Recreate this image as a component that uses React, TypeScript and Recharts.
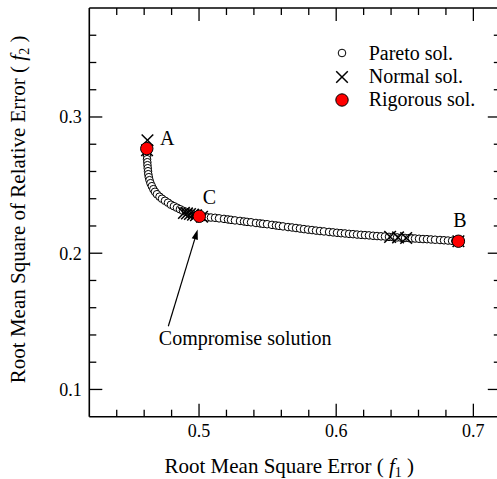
import React from 'react';
import { ScatterChart, Scatter, XAxis, YAxis, ReferenceLine, Legend } from 'recharts';

const FONT = 'Liberation Serif, Times New Roman, DejaVu Serif, serif';

// Pareto front (f1, f2)
const paretoF1 = [
  0.4619, 0.4619, 0.4620, 0.4621, 0.4621, 0.4623, 0.4624, 0.4626, 0.4628, 0.4630,
  0.4634, 0.4639, 0.4646, 0.4656, 0.4667, 0.4679, 0.4693, 0.4712, 0.4730, 0.4752,
  0.4774, 0.4795, 0.4817, 0.4839, 0.4861, 0.4883, 0.4905, 0.4927, 0.4949, 0.4974,
  0.5002, 0.5036, 0.5065, 0.5087, 0.5117, 0.5146, 0.5182, 0.5211, 0.5233, 0.5262,
  0.5299, 0.5328, 0.5350, 0.5379, 0.5415, 0.5445, 0.5466, 0.5496, 0.5532, 0.5561,
  0.5583, 0.5612, 0.5649, 0.5678, 0.5707, 0.5736, 0.5765, 0.5795, 0.5824, 0.5853,
  0.5882, 0.5911, 0.5948, 0.5977, 0.6006, 0.6035, 0.6064, 0.6094, 0.6123, 0.6152,
  0.6181, 0.6210, 0.6239, 0.6269, 0.6298, 0.6327, 0.6356, 0.6385, 0.6414, 0.6444,
  0.6473, 0.6502, 0.6531, 0.6553, 0.6575, 0.6604, 0.6633, 0.6662, 0.6691, 0.6721,
  0.6757, 0.6786, 0.6815, 0.6845, 0.6868, 0.6891,
];
const paretoF2 = [
  0.2768, 0.2756, 0.2734, 0.2712, 0.2690, 0.2668, 0.2646, 0.2624, 0.2602, 0.2580,
  0.2558, 0.2536, 0.2514, 0.2492, 0.2470, 0.2451, 0.2433, 0.2415, 0.2400, 0.2385,
  0.2371, 0.2356, 0.2345, 0.2334, 0.2323, 0.2312, 0.2304, 0.2297, 0.2290, 0.2279,
  0.2271, 0.2266, 0.2263, 0.2262, 0.2260, 0.2256, 0.2252, 0.2248, 0.2245, 0.2241,
  0.2237, 0.2233, 0.2230, 0.2227, 0.2222, 0.2219, 0.2216, 0.2213, 0.2208, 0.2204,
  0.2201, 0.2197, 0.2192, 0.2189, 0.2185, 0.2181, 0.2177, 0.2173, 0.2170, 0.2166,
  0.2163, 0.2160, 0.2156, 0.2153, 0.2150, 0.2147, 0.2145, 0.2142, 0.2140, 0.2137,
  0.2135, 0.2133, 0.2131, 0.2128, 0.2126, 0.2124, 0.2123, 0.2120, 0.2118, 0.2116,
  0.2114, 0.2112, 0.2111, 0.2109, 0.2108, 0.2106, 0.2104, 0.2103, 0.2101, 0.2099,
  0.2097, 0.2095, 0.2093, 0.2091, 0.2090, 0.2088,
];

// Normal solutions
const normalF1 = [0.4624, 0.4621, 0.4890, 0.4912, 0.4934, 0.4956, 0.4978, 0.5022, 0.6393, 0.6451, 0.6510, 0.6891];
const normalF2 = [0.2829, 0.2756, 0.2296, 0.2292, 0.2288, 0.2283, 0.2279, 0.2268, 0.2120, 0.2116, 0.2112, 0.2088];

// Rigorous solutions
const rigorousF1 = [0.4619, 0.5002, 0.6891];
const rigorousF2 = [0.2768, 0.2271, 0.2088];
const rigorousNames = ['A', 'C', 'B'];

// Axes
const xDomain = [0.42, 0.72];
const yDomain = [0.08, 0.38];
const xMajorTicks = [0.5, 0.6, 0.7];
const xMinorTicks = [0.44, 0.46, 0.48, 0.52, 0.54, 0.56, 0.58, 0.62, 0.64, 0.66, 0.68];
const yMajorTicks = [0.1, 0.2, 0.3];
const yMinorTicks = [0.12, 0.14, 0.16, 0.18, 0.22, 0.24, 0.26, 0.28, 0.32, 0.34, 0.36];

// Annotation arrow (data coords)
const arrowTail = { f1: 0.4776, f2: 0.1464 };
const arrowTip = { f1: 0.4990, f2: 0.2174 };
const annotationText = 'Compromise solution';

const legendNames = ['Pareto sol.', 'Normal sol.', 'Rigorous sol.'];

const paretoData = paretoF1.map((f1, i) => ({ f1, f2: paretoF2[i] }));
const normalData = normalF1.map((f1, i) => ({ f1, f2: normalF2[i] }));
const rigorousData = rigorousF1.map((f1, i) => ({ f1, f2: rigorousF2[i], name: rigorousNames[i] }));

const xTicks = [...xMajorTicks, ...xMinorTicks].sort((a, b) => a - b);
const yTicks = [...yMajorTicks, ...yMinorTicks].sort((a, b) => a - b);
const isMajor = (v: number, list: number[]) => list.some((m) => Math.abs(m - v) < 1e-9);

const MAJOR = 13;
const MINOR = 7;
const TICK_W = 1.3;
const AXIS_W = 1.6;
const txt = { fontFamily: FONT, fill: '#000' };

const BottomTick = (props: any) => {
  const { x, y, payload } = props;
  const major = isMajor(payload.value, xMajorTicks);
  return (
    <g>
      <line x1={x} x2={x} y1={y} y2={y - (major ? MAJOR : MINOR)} stroke="#000" strokeWidth={TICK_W} />
      {major && (
        <text x={x} y={y + 20} textAnchor="middle" fontSize={18} style={txt}>
          {payload.value.toFixed(1)}
        </text>
      )}
    </g>
  );
};

const TopTick = (props: any) => {
  const { x, y, payload } = props;
  const major = isMajor(payload.value, xMajorTicks);
  return <line x1={x} x2={x} y1={y} y2={y + (major ? MAJOR : MINOR)} stroke="#000" strokeWidth={TICK_W} />;
};

const LeftTick = (props: any) => {
  const { x, y, payload } = props;
  const major = isMajor(payload.value, yMajorTicks);
  return (
    <g>
      <line x1={x} x2={x + (major ? MAJOR : MINOR)} y1={y} y2={y} stroke="#000" strokeWidth={TICK_W} />
      {major && (
        <text x={x - 7.5} y={y + 6.5} textAnchor="end" fontSize={18} style={txt}>
          {payload.value.toFixed(1)}
        </text>
      )}
    </g>
  );
};

const RightTick = (props: any) => {
  const { x, y, payload } = props;
  const major = isMajor(payload.value, yMajorTicks);
  return <line x1={x} x2={x - (major ? MAJOR : MINOR)} y1={y} y2={y} stroke="#000" strokeWidth={TICK_W} />;
};

const XTitle = (props: any) => {
  const vb = props.viewBox || { x: 0, y: 0, width: 0, height: 0 };
  const cx = vb.x + 200;
  const by = vb.y + 56;
  return (
    <text x={cx} y={by} textAnchor="middle" fontSize={21} style={txt}>
      Root Mean Square Error (&#160;<tspan fontStyle="italic">f</tspan>
      <tspan dy={4} fontSize={14}>1</tspan>
      <tspan dy={-4}>&#160;)</tspan>
    </text>
  );
};

const YTitle = (props: any) => {
  const vb = props.viewBox || { x: 0, y: 0, width: 0, height: 0 };
  const cx = vb.x + 25;
  const cy = vb.y + vb.height / 2 - 3;
  return (
    <text
      x={cx}
      y={cy}
      transform={`rotate(-90, ${cx}, ${cy})`}
      textAnchor="middle"
      fontSize={21}
      style={txt}
    >
      Root Mean Square of Relative Error (&#160;<tspan fontStyle="italic">f</tspan>
      <tspan dy={4} fontSize={14}>2</tspan>
      <tspan dy={-4}>&#160;)</tspan>
    </text>
  );
};

const ParetoShape = (p: any) => (
  <circle cx={p.cx} cy={p.cy} r={3.8} fill="#fff" stroke="#000" strokeWidth={1} />
);

const CrossShape = (p: any) => {
  const s = 5.8;
  return (
    <g stroke="#000" strokeWidth={1.5}>
      <line x1={p.cx - s} y1={p.cy - s} x2={p.cx + s} y2={p.cy + s} />
      <line x1={p.cx - s} y1={p.cy + s} x2={p.cx + s} y2={p.cy - s} />
    </g>
  );
};

const labelOffsets: Record<string, [number, number]> = {
  A: [20.5, -4],
  C: [10, -12],
  B: [1.5, -14],
};

const RigorousShape = (p: any) => {
  const name = p.payload?.name ?? '';
  const off = labelOffsets[name] || [0, 0];
  return (
    <g>
      <circle cx={p.cx} cy={p.cy} r={6.2} fill="#ff0000" stroke="#000" strokeWidth={1} />
      <text x={p.cx + off[0]} y={p.cy + off[1]} textAnchor="middle" fontSize={20} style={txt}>
        {name}
      </text>
    </g>
  );
};

const ArrowShape = (props: any) => {
  const { x1, y1, x2, y2 } = props;
  if ([x1, y1, x2, y2].some((v) => typeof v !== 'number' || isNaN(v))) return null;
  const dx = x2 - x1;
  const dy = y2 - y1;
  const len = Math.sqrt(dx * dx + dy * dy) || 1;
  const ux = dx / len;
  const uy = dy / len;
  const nx = -uy;
  const ny = ux;
  const hl = 10;
  const hw = 3.2;
  const bx = x2 - ux * hl;
  const by = y2 - uy * hl;
  return (
    <g>
      <line x1={x1} y1={y1} x2={bx} y2={by} stroke="#000" strokeWidth={1.2} />
      <polygon
        points={`${x2},${y2} ${bx + nx * hw},${by + ny * hw} ${bx - nx * hw},${by - ny * hw}`}
        fill="#000"
      />
      <text x={x1 - 9.5} y={y1 + 19} fontSize={20} style={txt}>
        {annotationText}
      </text>
    </g>
  );
};

const LegendIcon = ({ index }: { index: number }) => {
  if (index === 0) return <circle cx={8} cy={8} r={3.8} fill="#fff" stroke="#000" strokeWidth={1} />;
  if (index === 1)
    return (
      <g stroke="#000" strokeWidth={1.5}>
        <line x1={2.2} y1={2.2} x2={13.8} y2={13.8} />
        <line x1={2.2} y1={13.8} x2={13.8} y2={2.2} />
      </g>
    );
  return <circle cx={8} cy={8} r={6.2} fill="#ff0000" stroke="#000" strokeWidth={1} />;
};

const renderLegend = () => (
  <div style={{ fontFamily: FONT, fontSize: 20, color: '#000' }}>
    {legendNames.map((name, i) => (
      <div key={name} style={{ display: 'flex', alignItems: 'center', height: 23.4 }}>
        <svg width={16} height={16} style={{ marginRight: 18.4, overflow: 'visible' }}>
          <LegendIcon index={i} />
        </svg>
        <span style={{ lineHeight: '23.4px' }}>{name}</span>
      </div>
    ))}
  </div>
);

export default function App() {
  return (
    <div style={{ position: 'absolute', left: 0, top: 0, width: 497, height: 479, overflow: 'hidden', background: '#fff' }}>
      <ScatterChart
        width={520}
        height={479}
        margin={{ top: 7, right: 18.2, bottom: 0, left: 0 }}
        style={{ fontFamily: FONT }}
      >
        <XAxis
          xAxisId="x"
          dataKey="f1"
          type="number"
          orientation="bottom"
          domain={xDomain}
          allowDataOverflow
          ticks={xTicks}
          interval={0}
          height={62.3}
          tickSize={0}
          tickMargin={0}
          tickLine={false}
          axisLine={{ stroke: '#000', strokeWidth: AXIS_W }}
          tick={BottomTick}
          label={<XTitle />}
        />
        <XAxis
          xAxisId="top"
          dataKey="f1"
          type="number"
          orientation="top"
          domain={xDomain}
          allowDataOverflow
          ticks={xTicks}
          interval={0}
          height={1}
          tickSize={0}
          tickMargin={0}
          tickLine={false}
          axisLine={{ stroke: '#000', strokeWidth: AXIS_W }}
          tick={TopTick}
        />
        <YAxis
          yAxisId="y"
          dataKey="f2"
          type="number"
          orientation="left"
          domain={yDomain}
          allowDataOverflow
          ticks={yTicks}
          interval={0}
          width={89.3}
          tickSize={0}
          tickMargin={0}
          tickLine={false}
          axisLine={{ stroke: '#000', strokeWidth: AXIS_W }}
          tick={LeftTick}
          label={<YTitle />}
        />
        <YAxis
          yAxisId="right"
          dataKey="f2"
          type="number"
          orientation="right"
          domain={yDomain}
          allowDataOverflow
          ticks={yTicks}
          interval={0}
          width={1}
          tickSize={0}
          tickMargin={0}
          tickLine={false}
          axisLine={{ stroke: '#000', strokeWidth: AXIS_W }}
          tick={RightTick}
        />
        <ReferenceLine
          xAxisId="x"
          yAxisId="y"
          segment={[
            { x: arrowTail.f1, y: arrowTail.f2 },
            { x: arrowTip.f1, y: arrowTip.f2 },
          ]}
          shape={ArrowShape}
          ifOverflow="visible"
        />
        <Scatter
          name="Pareto sol."
          data={paretoData}
          xAxisId="x"
          yAxisId="y"
          shape={ParetoShape}
          isAnimationActive={false}
        />
        <Scatter
          name="Normal sol."
          data={normalData}
          xAxisId="x"
          yAxisId="y"
          shape={CrossShape}
          isAnimationActive={false}
        />
        <Scatter
          name="Rigorous sol."
          data={rigorousData}
          xAxisId="x"
          yAxisId="y"
          shape={RigorousShape}
          isAnimationActive={false}
        />
        <Legend
          layout="vertical"
          align="center"
          verticalAlign="middle"
          content={renderLegend}
          wrapperStyle={{ left: 334.3, top: 41.6, width: 'auto', position: 'absolute' }}
        />
      </ScatterChart>
    </div>
  );
}
